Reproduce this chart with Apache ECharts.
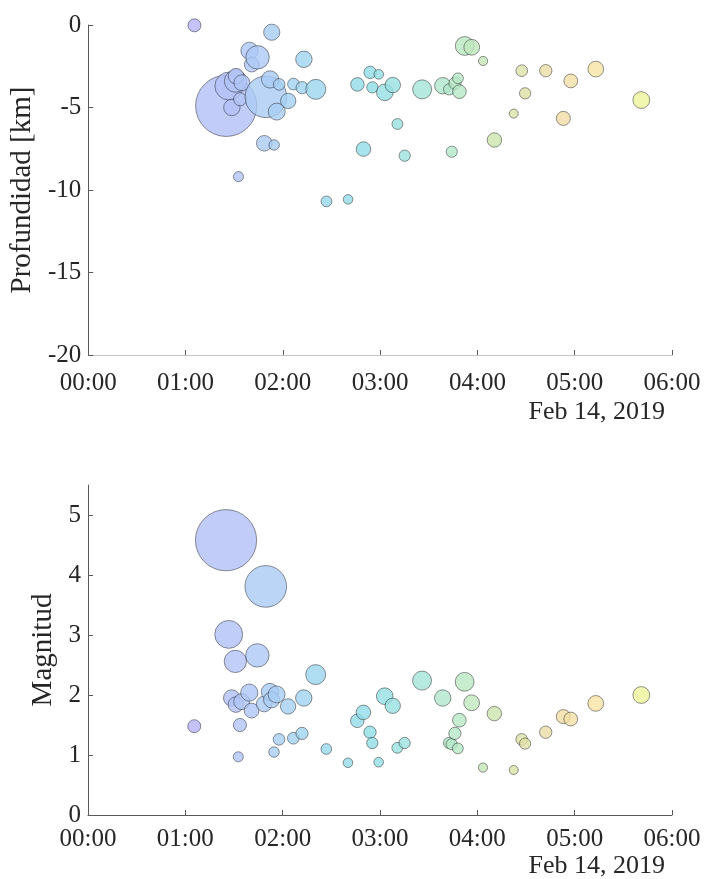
<!DOCTYPE html>
<html>
<head>
<meta charset="utf-8">
<script src="https://cdn.jsdelivr.net/npm/echarts@6/dist/echarts.min.js"></script>
<style>
  html, body { margin: 0; padding: 0; background: #fff; }
  #chart { width: 704px; height: 879px; }
</style>
</head>
<body>
<div id="chart"></div>
<script>
// sismos del 14 de febrero de 2019 (hora, profundidad, magnitud)
const horas = [
  '01:05:30', '01:25:05', '01:26:45', '01:28:35', '01:30:50', '01:31:10', '01:32:40', '01:33:40',
  '01:34:45', '01:39:25', '01:40:50', '01:44:25', '01:48:35', '01:49:35', '01:52:10', '01:53:10',
  '01:54:40', '01:56:15', '01:57:45', '02:03:20', '02:06:35', '02:11:55', '02:13:00', '02:20:20',
  '02:26:55', '02:40:15', '02:46:00', '02:49:45', '02:53:50', '02:55:15', '02:59:10', '03:02:55',
  '03:07:50', '03:10:40', '03:15:10', '03:25:55', '03:38:40', '03:42:35', '03:44:10', '03:46:10',
  '03:48:00', '03:48:55', '03:52:10', '03:56:30', '04:03:30', '04:10:30', '04:22:25', '04:27:20',
  '04:29:25', '04:42:10', '04:53:00', '04:57:35', '05:13:00', '05:41:05'
];
const profundidad = [
  -0.02, -4.9, -3.7, -5.0, -3.4, -3.1, -9.19, -4.5,
  -3.5, -1.56, -2.4, -1.96, -7.17, -4.35, -3.3, -0.44,
  -7.27, -5.25, -3.6, -4.6, -3.58, -3.8, -2.08, -3.9,
  -10.69, -10.57, -3.6, -7.52, -2.87, -3.78, -2.99, -4.08,
  -3.64, -6.0, -7.92, -3.9, -3.68, -3.9, -7.68, -3.53,
  -3.23, -4.04, -1.27, -1.35, -2.18, -6.97, -5.37, -2.77,
  -4.14, -2.77, -5.66, -3.39, -2.67, -4.55
];
const magnitud = [
  1.48, 4.58, 3.01, 1.95, 2.56, 1.84, 0.97, 1.50,
  1.89, 2.04, 1.74, 2.66, 1.85, 3.81, 2.05, 1.92,
  1.05, 2.01, 1.26, 1.81, 1.28, 1.36, 1.95, 2.34,
  1.10, 0.87, 1.57, 1.71, 1.38, 1.20, 0.88, 1.98,
  1.82, 1.12, 1.20, 2.24, 1.95, 1.20, 1.18, 1.36,
  1.11, 1.58, 2.22, 1.87, 0.79, 1.69, 0.75, 1.26,
  1.19, 1.38, 1.64, 1.60, 1.86, 2.00
];
const horasEje = ['00:00', '06:00'];
const ticksProf = [-20, -15, -10, -5, 0];
const ticksMag = [0, 1, 2, 3, 4, 5];
const fechaTexto = 'Feb 14, 2019';

const aFecha = (h) => {
  const p = h.split(':').map(Number);
  return new Date(2019, 1, 14, p[0], p[1], p[2] || 0).getTime();
};
const tiempos = horas.map(aFecha);
const ejeT = horasEje.map(aFecha);
const pad = (n) => (n < 10 ? '0' : '') + n;
const HORA = 3600 * 1000;

const fuente = 'Liberation Serif, DejaVu Serif, serif';
const colorTexto = '#262626';
const colorEje = '#5a5a5a';

// tamaño del círculo según la magnitud
const tamano = (m) => 6.2 * Math.exp(m / 2);

const datosProf = tiempos.map((t, i) => [t, profundidad[i], magnitud[i]]);
const datosMag = tiempos.map((t, i) => [t, magnitud[i]]);

function ejeX(idx, margen, colorLinea) {
  return {
    type: 'time',
    gridIndex: idx,
    min: ejeT[0],
    max: ejeT[1],
    minInterval: HORA,
    maxInterval: HORA,
    splitNumber: 6,
    axisLine: { onZero: false, lineStyle: { color: colorLinea, width: 1 } },
    axisTick: { inside: true, length: 5, lineStyle: { color: colorEje } },
    axisLabel: {
      margin: margen,
      fontFamily: fuente,
      fontSize: 25,
      color: colorTexto,
      hideOverlap: false,
      showMinLabel: true,
      showMaxLabel: true,
      formatter: (v) => {
        const d = new Date(v);
        return pad(d.getHours()) + ':' + pad(d.getMinutes());
      }
    },
    splitLine: { show: false }
  };
}

function ejeY(idx, nombre, min, max, ticks, gap) {
  return {
    type: 'value',
    gridIndex: idx,
    min: min,
    max: max,
    name: nombre,
    nameLocation: 'middle',
    nameGap: gap,
    nameTextStyle: { fontFamily: fuente, fontSize: 29, color: colorTexto },
    axisLine: { show: true, onZero: false, lineStyle: { color: colorEje, width: 1 } },
    axisTick: { show: true, inside: true, length: 5, customValues: ticks, lineStyle: { color: colorEje } },
    axisLabel: { customValues: ticks, margin: 7, fontFamily: fuente, fontSize: 25, color: colorTexto },
    splitLine: { show: false }
  };
}

const chart = echarts.init(document.getElementById('chart'), null, { renderer: 'canvas' });

const option = {
  backgroundColor: '#fff',
  animation: false,
  grid: [
    { left: 88, right: 32, top: 25, height: 330 },
    { left: 88, right: 32, top: 485, height: 330 }
  ],
  xAxis: [ejeX(0, 16, '#c4c4c4'), ejeX(1, 12, colorEje)],
  yAxis: [
    ejeY(0, 'Profundidad [km]', -20, 0, ticksProf, 48),
    ejeY(1, 'Magnitud', 0, 5.5, ticksMag, 28)
  ],
  visualMap: {
    type: 'continuous',
    show: false,
    dimension: 0,
    seriesIndex: [0, 1],
    min: tiempos[0],
    max: tiempos[tiempos.length - 1],
    inRange: {
      color: [
        '#b5b3f6', '#b1c4f8', '#a6cff3', '#96d8ec', '#8fdde6', '#a2e4da',
        '#b9e8c3', '#d5e4a6', '#efdba6', '#f7e4a4', '#eff59c'
      ]
    }
  },
  graphic: [
    { type: 'text', x: 665, y: 412, style: { text: fechaTexto, align: 'right', verticalAlign: 'middle', font: '26px ' + fuente, fill: colorTexto } },
    { type: 'text', x: 665, y: 866, style: { text: fechaTexto, align: 'right', verticalAlign: 'middle', font: '26px ' + fuente, fill: colorTexto } }
  ],
  series: [
    {
      type: 'scatter',
      xAxisIndex: 0,
      yAxisIndex: 0,
      data: datosProf,
      symbolSize: (d) => tamano(d[2]),
      itemStyle: { borderColor: 'rgba(30,30,30,0.75)', borderWidth: 0.8 }
    },
    {
      type: 'scatter',
      xAxisIndex: 1,
      yAxisIndex: 1,
      data: datosMag,
      symbolSize: (d) => tamano(d[1]),
      itemStyle: { borderColor: 'rgba(30,30,30,0.75)', borderWidth: 0.8 }
    }
  ]
};

chart.setOption(option);
</script>
</body>
</html>
